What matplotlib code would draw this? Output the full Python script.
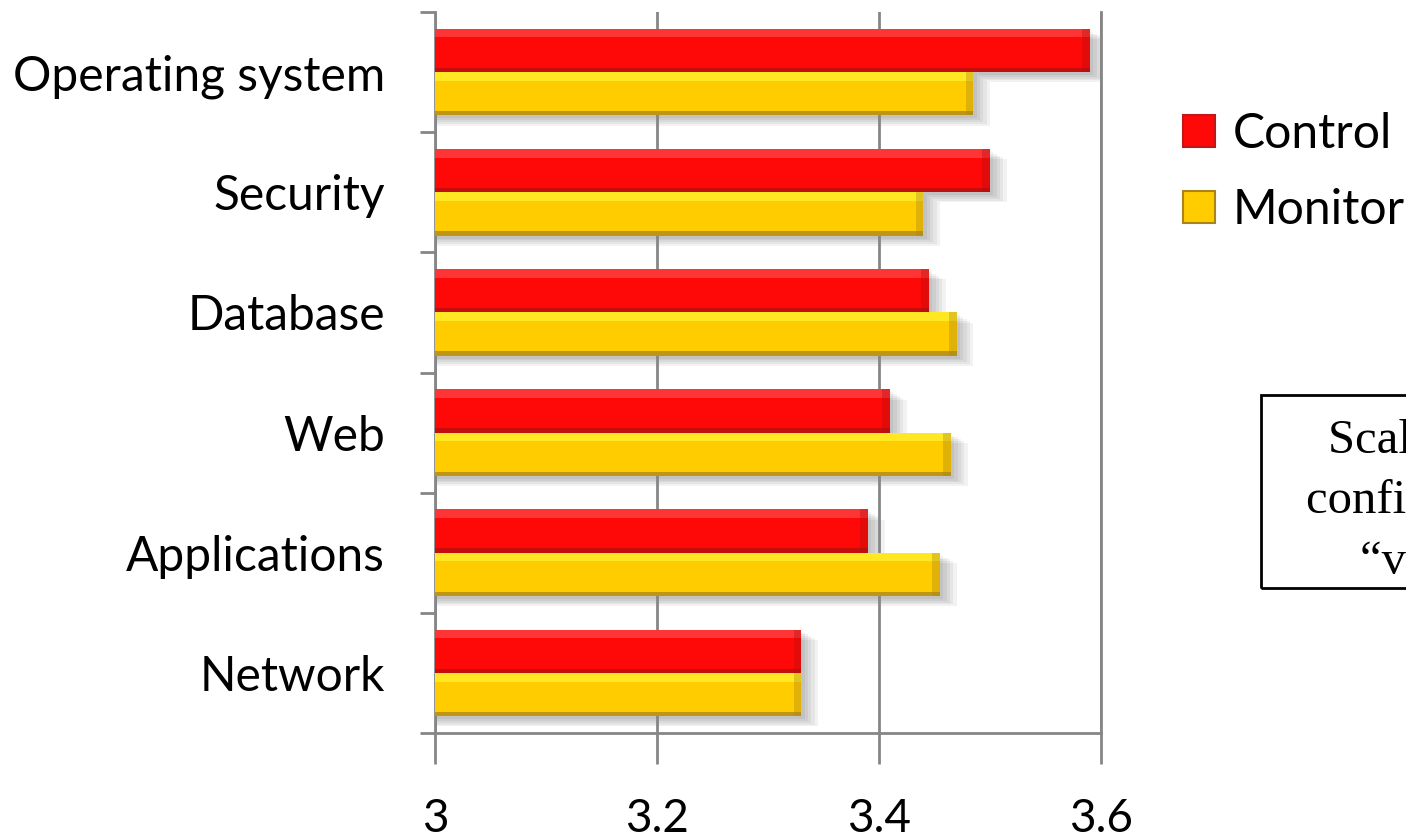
import matplotlib.pyplot as plt
import numpy as np
from matplotlib.patches import Patch, Rectangle

# survey results, top category first
categories = ["Operating system", "Security", "Database", "Web", "Applications", "Network"]
control = [3.59, 3.50, 3.445, 3.41, 3.39, 3.33]
monitor = [3.485, 3.44, 3.47, 3.465, 3.455, 3.33]
series_names = ["Control", "Monitor"]
x_ticks = [3, 3.2, 3.4, 3.6]
x_tick_labels = ["3", "3.2", "3.4", "3.6"]
note_lines = ["Scale from 1 to 5 of", "confidence, where 5 =", "\u201cvery confident\u201d"]
base = 3.0

plt.rcParams['font.family'] = ['Lato', 'DejaVu Sans']

W, H = 1406, 839
fig = plt.figure(figsize=(W / 100, H / 100), dpi=100)
ax = fig.add_axes([435 / W, 106 / H, 666 / W, 721 / H])

n = len(categories)
ypos = np.arange(n)[::-1]
bar_h = 0.36
off = 0.18
grey = '#868686'


def glossy_bars(y, vals, main, light, dark):
    w = np.array(vals) - base
    # soft drop shadow
    for k in range(1, 6):
        ax.barh(y - 0.015 * k - 0.01, w + 0.003 * k, height=bar_h, left=base,
                color='black', alpha=0.05, lw=0, zorder=1)
    ax.barh(y, w, height=bar_h, left=base, color=main, lw=0, zorder=3)
    # highlight along the top, darker rim along the bottom and right end
    ax.barh(y + bar_h * 0.40, w, height=bar_h * 0.20, left=base,
            color=light, alpha=0.55, lw=0, zorder=4)
    ax.barh(y - bar_h * 0.45, w, height=bar_h * 0.10, left=base,
            color=dark, alpha=0.75, lw=0, zorder=4)
    ax.barh(y, np.full_like(w, 0.007), height=bar_h, left=np.array(vals) - 0.007,
            color=dark, alpha=0.35, lw=0, zorder=4)


glossy_bars(ypos + off, control, '#ff0808', '#ff5a5a', '#b01010')
glossy_bars(ypos - off, monitor, '#ffcc00', '#ffff40', '#a8841a')

ax.set_xlim(3, 3.6)
ax.set_ylim(-0.5, n - 0.5)

ax.set_xticks(x_ticks)
ax.set_xticklabels(x_tick_labels, fontsize=33)
ax.tick_params(axis='x', direction='out', length=22, width=2, color=grey, pad=25)
ax.grid(axis='x', color=grey, lw=2, zorder=0)

ax.set_yticks(np.arange(-0.5, n, 1.0))
ax.set_yticklabels([])
ax.set_yticks(ypos, minor=True)
ax.set_yticklabels(categories, minor=True, fontsize=34.5)
ax.tick_params(axis='y', which='major', direction='out', length=11, width=2, color=grey)
ax.tick_params(axis='y', which='minor', length=0, pad=36)

for side in ['left', 'bottom', 'right']:
    ax.spines[side].set_color(grey)
    ax.spines[side].set_linewidth(2)
ax.spines['top'].set_visible(False)

handles = [Patch(facecolor='#ff0808', edgecolor='#c01818', lw=1.5),
           Patch(facecolor='#ffcc00', edgecolor='#a8841a', lw=1.5)]
fig.legend(handles, series_names, loc='upper left', bbox_to_anchor=(1183 / W, 1 - 112 / H),
           frameon=False, fontsize=34.7, handlelength=0.66, handleheight=0.66,
           handletextpad=0.37, labelspacing=0.66, borderpad=0, borderaxespad=0)

# note box on the right
fig.patches.append(Rectangle((1261 / W, 1 - 588 / H), 500 / W, 193 / H,
                             transform=fig.transFigure, fill=False, ec='black', lw=2))
fig.text(1306 / W, 1 - 419 / H, "\n".join(note_lines), family='Liberation Serif',
         fontsize=35, ha='left', va='top', multialignment='center', linespacing=1.48)

fig.savefig('out.png', dpi=100)
